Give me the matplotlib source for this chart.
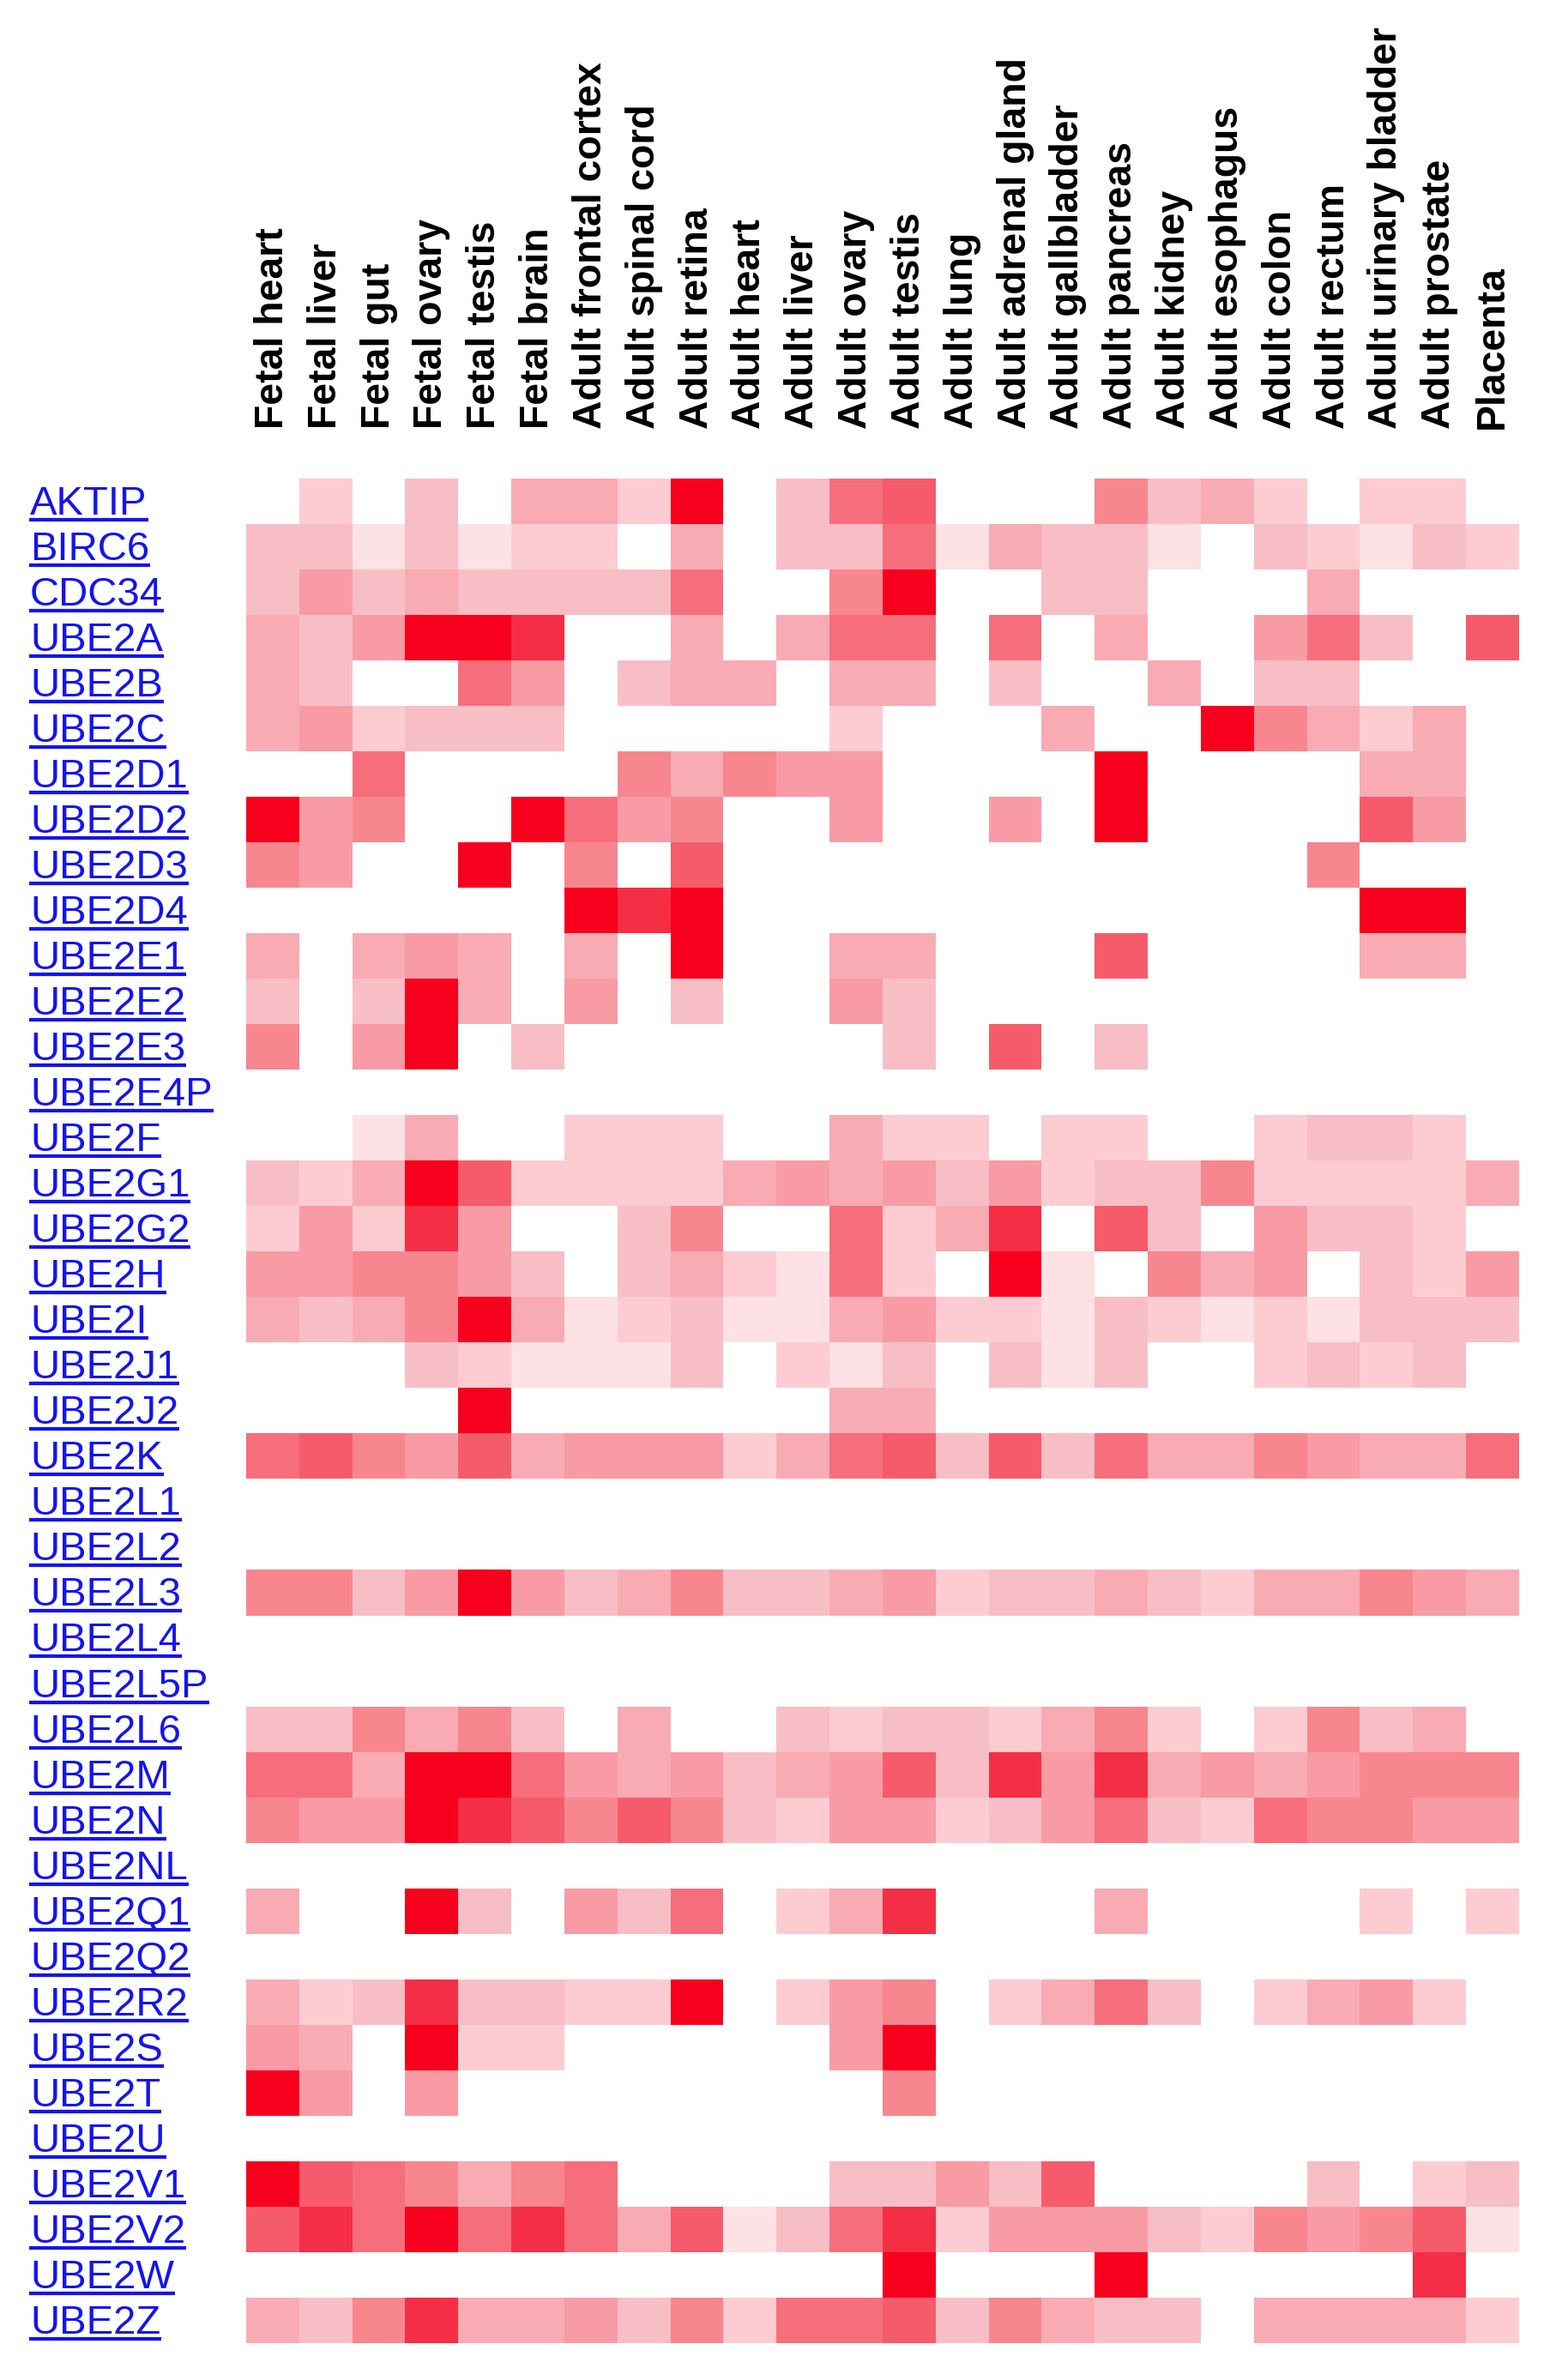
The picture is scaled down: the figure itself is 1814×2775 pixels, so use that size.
import numpy as np
import matplotlib
matplotlib.use('Agg')
import matplotlib.pyplot as plt
from matplotlib.colors import ListedColormap, BoundaryNorm
import matplotlib.transforms as mtrans
from matplotlib.lines import Line2D

tissues = ["Fetal heart", "Fetal liver", "Fetal gut", "Fetal ovary", "Fetal testis",
           "Fetal brain", "Adult frontal cortex", "Adult spinal cord", "Adult retina",
           "Adult heart", "Adult liver", "Adult ovary", "Adult testis", "Adult lung",
           "Adult adrenal gland", "Adult gallbladder", "Adult pancreas", "Adult kidney",
           "Adult esophagus", "Adult colon", "Adult rectum", "Adult urinary bladder",
           "Adult prostate", "Placenta"]

genes = ["AKTIP", "BIRC6", "CDC34", "UBE2A", "UBE2B", "UBE2C", "UBE2D1", "UBE2D2",
         "UBE2D3", "UBE2D4", "UBE2E1", "UBE2E2", "UBE2E3", "UBE2E4P", "UBE2F", "UBE2G1",
         "UBE2G2", "UBE2H", "UBE2I", "UBE2J1", "UBE2J2", "UBE2K", "UBE2L1", "UBE2L2",
         "UBE2L3", "UBE2L4", "UBE2L5P", "UBE2L6", "UBE2M", "UBE2N", "UBE2NL", "UBE2Q1",
         "UBE2Q2", "UBE2R2", "UBE2S", "UBE2T", "UBE2U", "UBE2V1", "UBE2V2", "UBE2W", "UBE2Z"]

# expression level per gene (0 = none ... 10 = highest), one value per tissue
AKTIP   = [0,2,0,3,0,4,4,2,10,0,3,7,8,0,0,0,6,3,4,2,0,2,2,0]
BIRC6   = [3,3,1,3,1,2,2,0,4,0,3,3,7,1,4,3,3,1,0,3,2,1,3,2]
CDC34   = [3,5,3,4,3,3,3,3,7,0,0,6,10,0,0,3,3,0,0,0,4,0,0,0]
UBE2A   = [4,3,5,10,10,9,0,0,4,0,4,7,7,0,7,0,4,0,0,5,7,3,0,8]
UBE2B   = [4,3,0,0,7,5,0,3,4,4,0,4,4,0,3,0,0,4,0,3,3,0,0,0]
UBE2C   = [4,5,2,3,3,3,0,0,0,0,0,2,0,0,0,4,0,0,10,6,4,2,4,0]
UBE2D1  = [0,0,7,0,0,0,0,6,4,6,5,5,0,0,0,0,10,0,0,0,0,4,4,0]
UBE2D2  = [10,5,6,0,0,10,7,5,6,0,0,5,0,0,5,0,10,0,0,0,0,8,5,0]
UBE2D3  = [6,5,0,0,10,0,6,0,8,0,0,0,0,0,0,0,0,0,0,0,6,0,0,0]
UBE2D4  = [0,0,0,0,0,0,10,9,10,0,0,0,0,0,0,0,0,0,0,0,0,10,10,0]
UBE2E1  = [4,0,4,5,4,0,4,0,10,0,0,4,4,0,0,0,8,0,0,0,0,4,4,0]
UBE2E2  = [3,0,3,10,4,0,5,0,3,0,0,5,3,0,0,0,0,0,0,0,0,0,0,0]
UBE2E3  = [6,0,5,10,0,3,0,0,0,0,0,0,3,0,8,0,3,0,0,0,0,0,0,0]
UBE2E4P = [0,0,0,0,0,0,0,0,0,0,0,0,0,0,0,0,0,0,0,0,0,0,0,0]
UBE2F   = [0,0,1,4,0,0,2,2,2,0,0,4,2,2,0,2,2,0,0,2,3,3,2,0]
UBE2G1  = [3,2,4,10,8,2,2,2,2,4,5,4,5,3,5,2,3,3,6,2,2,2,2,4]
UBE2G2  = [2,5,2,9,5,0,0,3,6,0,0,7,2,4,9,0,8,3,0,5,3,3,2,0]
UBE2H   = [5,5,6,6,5,3,0,3,4,2,1,7,2,0,10,1,0,6,4,5,0,3,2,5]
UBE2I   = [4,3,4,6,10,4,1,2,3,1,1,4,5,2,2,1,3,2,1,2,1,3,3,3]
UBE2J1  = [0,0,0,3,2,1,1,1,3,0,2,1,3,0,3,1,3,0,0,2,3,2,3,0]
UBE2J2  = [0,0,0,0,10,0,0,0,0,0,0,4,4,0,0,0,0,0,0,0,0,0,0,0]
UBE2K   = [7,8,6,5,8,4,5,5,5,2,4,7,8,3,8,3,7,4,4,6,5,4,4,7]
UBE2L1  = [0,0,0,0,0,0,0,0,0,0,0,0,0,0,0,0,0,0,0,0,0,0,0,0]
UBE2L2  = [0,0,0,0,0,0,0,0,0,0,0,0,0,0,0,0,0,0,0,0,0,0,0,0]
UBE2L3  = [6,6,3,5,10,5,3,4,6,3,3,4,5,2,3,3,4,3,2,4,4,6,5,4]
UBE2L4  = [0,0,0,0,0,0,0,0,0,0,0,0,0,0,0,0,0,0,0,0,0,0,0,0]
UBE2L5P = [0,0,0,0,0,0,0,0,0,0,0,0,0,0,0,0,0,0,0,0,0,0,0,0]
UBE2L6  = [3,3,6,4,6,3,0,4,0,0,3,2,3,3,2,4,6,2,0,2,6,3,4,0]
UBE2M   = [7,7,4,10,10,7,5,4,5,3,4,5,8,3,9,5,9,4,5,4,5,6,6,6]
UBE2N   = [6,5,5,10,9,8,6,8,6,3,2,5,5,2,3,5,7,3,2,7,6,6,5,5]
UBE2NL  = [0,0,0,0,0,0,0,0,0,0,0,0,0,0,0,0,0,0,0,0,0,0,0,0]
UBE2Q1  = [4,0,0,10,3,0,5,3,7,0,2,4,9,0,0,0,4,0,0,0,0,2,0,2]
UBE2Q2  = [0,0,0,0,0,0,0,0,0,0,0,0,0,0,0,0,0,0,0,0,0,0,0,0]
UBE2R2  = [4,2,3,9,3,3,2,2,10,0,2,5,6,0,2,4,7,3,0,2,4,5,2,0]
UBE2S   = [5,4,0,10,2,2,0,0,0,0,0,5,10,0,0,0,0,0,0,0,0,0,0,0]
UBE2T   = [10,5,0,5,0,0,0,0,0,0,0,0,6,0,0,0,0,0,0,0,0,0,0,0]
UBE2U   = [0,0,0,0,0,0,0,0,0,0,0,0,0,0,0,0,0,0,0,0,0,0,0,0]
UBE2V1  = [10,8,7,6,4,6,7,0,0,0,0,3,3,5,3,8,0,0,0,0,3,0,2,3]
UBE2V2  = [8,9,7,10,7,9,7,4,8,1,3,7,9,2,5,5,5,3,2,6,5,6,8,1]
UBE2W   = [0,0,0,0,0,0,0,0,0,0,0,0,10,0,0,0,10,0,0,0,0,0,9,0]
UBE2Z   = [4,3,6,9,4,4,5,3,6,2,7,7,8,3,6,4,3,3,0,4,4,4,4,2]

M = np.array([AKTIP, BIRC6, CDC34, UBE2A, UBE2B, UBE2C, UBE2D1, UBE2D2, UBE2D3, UBE2D4,
              UBE2E1, UBE2E2, UBE2E3, UBE2E4P, UBE2F, UBE2G1, UBE2G2, UBE2H, UBE2I,
              UBE2J1, UBE2J2, UBE2K, UBE2L1, UBE2L2, UBE2L3, UBE2L4, UBE2L5P, UBE2L6,
              UBE2M, UBE2N, UBE2NL, UBE2Q1, UBE2Q2, UBE2R2, UBE2S, UBE2T, UBE2U,
              UBE2V1, UBE2V2, UBE2W, UBE2Z], dtype=float)

level_colors = ["#FFFFFF", "#FDE1E5", "#FCCCD2", "#F8BEC5", "#F9ABB4", "#F89BA5",
                "#F7868F", "#F66E7B", "#F55B6B", "#F42E45", "#F7001D"]
cmap = ListedColormap(level_colors)
norm = BoundaryNorm(np.arange(-0.5, 11.5, 1.0), cmap.N)

W, H = 1815, 2775
fig = plt.figure(figsize=(W / 100, H / 100), dpi=100)
fig.patch.set_facecolor('white')

ax = fig.add_axes([287 / W, 1 - 2732 / H, 1484 / W, 2174 / H])
ax.imshow(M, cmap=cmap, norm=norm, aspect='auto', interpolation='nearest')
ax.set_axis_off()

# column labels
tcol = mtrans.blended_transform_factory(ax.transData, fig.transFigure)
for j, name in enumerate(tissues):
    ax.text(j, 1 - 500 / H, name, transform=tcol, rotation=90, ha='center', va='bottom',
            fontsize=33.4, fontweight='bold', family=['Liberation Sans', 'DejaVu Sans'],
            color='black')

# row labels (hyperlink style)
trow = mtrans.blended_transform_factory(fig.transFigure, ax.transData)
link_blue = '#1414EE'
texts = []
for i, g in enumerate(genes):
    t = fig.text(35 / W, 0, g, transform=trow, ha='left', va='baseline',
                 fontsize=34, family=['Liberation Sans', 'DejaVu Sans'], color=link_blue)
    t.set_position((35 / W, i + 0.29))
    texts.append((i, t))

fig.canvas.draw()
renderer = fig.canvas.get_renderer()
for i, t in texts:
    bb = t.get_window_extent(renderer)
    ybase = trow.transform((0, i + 0.29))[1]
    y = ybase - 6
    fig.add_artist(Line2D([bb.x0 - 1, bb.x1 + 1], [y, y], transform=mtrans.IdentityTransform(),
                          color=link_blue, linewidth=3.0, solid_capstyle='butt'))

fig.savefig('out.png', dpi=100, facecolor='white')
